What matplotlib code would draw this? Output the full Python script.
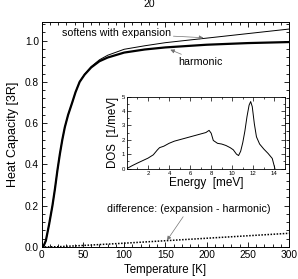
import matplotlib
matplotlib.use("Agg")
import matplotlib.pyplot as plt
from matplotlib.ticker import MultipleLocator

plt.rcParams['font.family'] = ['Liberation Sans', 'DejaVu Sans']

# heat capacity curves
temp = [0, 2, 5, 9, 13, 16, 19, 22, 25, 28, 32, 37, 41, 46, 52, 60, 70, 80, 100, 125, 150,
        200, 250, 300]
c_harm = [0, 0.002, 0.03, 0.11, 0.2, 0.28, 0.37, 0.45, 0.52, 0.58, 0.64, 0.7, 0.75, 0.8,
          0.835, 0.87, 0.9, 0.918, 0.942, 0.957, 0.967, 0.98, 0.988, 0.993]
c_exp = [0, 0.002, 0.03, 0.11, 0.2, 0.28, 0.37, 0.45, 0.52, 0.58, 0.64, 0.7, 0.75, 0.801,
         0.837, 0.874, 0.907, 0.929, 0.958, 0.975, 0.99, 1.012, 1.034, 1.056]
t_diff = [0, 20, 50, 100, 150, 200, 250, 300]
c_diff = [0, 0.001, 0.007, 0.018, 0.03, 0.042, 0.054, 0.066]

# phonon DOS for the inset
energy = [0.0, 0.5, 1.0, 1.5, 2.0, 2.5, 2.9, 3.1, 3.5, 4.0, 4.5, 5.0, 5.5, 6.0, 6.5, 7.0,
          7.5, 7.8, 8.0, 8.2, 8.6, 9.0, 9.4, 9.8, 10.1, 10.4, 10.6, 10.8, 11.0, 11.2, 11.4,
          11.6, 11.75, 11.9, 12.1, 12.3, 12.6, 13.0, 13.4, 13.8, 14.05]
dos = [0.0, 0.2, 0.38, 0.55, 0.72, 0.95, 1.3, 1.45, 1.55, 1.75, 1.9, 2.0, 2.1, 2.2, 2.3, 2.4,
       2.5, 2.65, 2.45, 1.95, 1.75, 1.7, 1.6, 1.45, 1.3, 1.0, 0.9, 1.2, 1.8, 2.6, 3.6,
       4.4, 4.65, 4.3, 3.1, 2.2, 1.7, 1.35, 1.05, 0.7, 0.0]

fig = plt.figure(figsize=(2.98, 2.79), dpi=100)
ax = fig.add_axes([0.14, 0.115, 0.83, 0.806])

ax.plot(temp, c_harm, color='black', lw=1.6)
ax.plot(temp, c_exp, color='black', lw=0.7)
ax.plot(t_diff, c_diff, color='black', lw=1.1, ls=(0, (1, 1)))

ax.set_xlim(0, 300)
ax.set_ylim(0, 1.09)
ax.xaxis.set_major_locator(MultipleLocator(50))
ax.xaxis.set_minor_locator(MultipleLocator(10))
ax.yaxis.set_major_locator(MultipleLocator(0.2))
ax.yaxis.set_minor_locator(MultipleLocator(0.04))
ax.yaxis.set_major_formatter(plt.FormatStrFormatter('%.1f'))
ax.tick_params(which='both', direction='in', top=True, right=True, labelsize=7.3, width=0.6)
ax.tick_params(which='major', length=3.5, pad=2)
ax.tick_params(which='minor', length=2)
for s in ax.spines.values():
    s.set_linewidth(0.7)
ax.set_xlabel('Temperature [K]', fontsize=8.3, labelpad=3)
ax.set_ylabel('Heat Capacity [3R]', fontsize=9, labelpad=4)

arrow = dict(arrowstyle='-|>', color='0.45', lw=0.5, mutation_scale=6, shrinkA=0, shrinkB=0)
ax.annotate('softens with expansion', xy=(196, 1.014), xytext=(24, 1.036), fontsize=7.7,
            va='center', ha='left', arrowprops=arrow)
ax.annotate('harmonic', xy=(156, 0.956), xytext=(165, 0.896), fontsize=7.7,
            va='center', ha='left', arrowprops=arrow)
ax.annotate('difference: (expansion - harmonic)', xy=(152, 0.032), xytext=(178, 0.184),
            fontsize=7.7, va='center', ha='center', arrowprops=arrow)

ins = fig.add_axes([0.426, 0.396, 0.53, 0.258])
ins.plot(energy, dos, color='black', lw=0.7)
ins.set_xlim(0, 15)
ins.set_ylim(0, 5)
ins.xaxis.set_major_locator(MultipleLocator(2))
ins.xaxis.set_minor_locator(MultipleLocator(1))
ins.yaxis.set_major_locator(MultipleLocator(1))
ins.yaxis.set_minor_locator(MultipleLocator(0.5))
ins.tick_params(which='both', direction='in', top=True, right=True, labelsize=4.3, width=0.5)
ins.tick_params(which='major', length=3, pad=1.5)
ins.tick_params(which='minor', length=1.5)
for s in ins.spines.values():
    s.set_linewidth(0.6)
ins.set_xticks([2, 4, 6, 8, 10, 12, 14])
ins.set_xlabel('Energy  [meV]', fontsize=8.5, labelpad=1)
ins.set_ylabel('DOS  [1/meV]', fontsize=8.3, labelpad=2)

fig.text(0.5, 0.985, '20', ha='center', va='center', fontsize=7.5)

fig.savefig('out.png', dpi=100)
